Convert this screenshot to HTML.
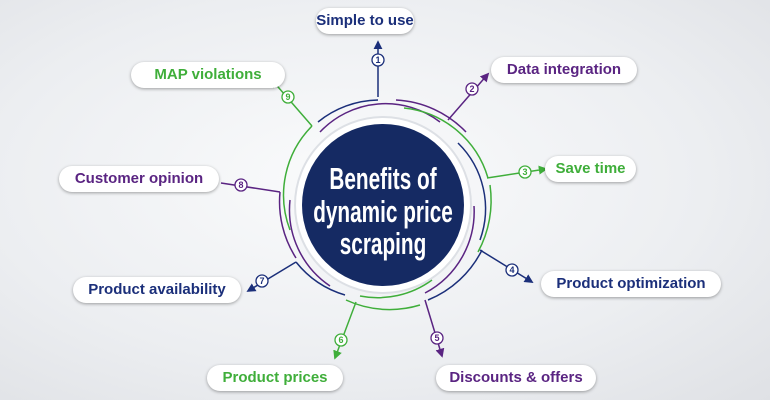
<!DOCTYPE html>
<html><head><meta charset="utf-8"><style>
html,body{margin:0;padding:0}
body{width:770px;height:400px;overflow:hidden;background:radial-gradient(ellipse at 45% 45%,#fafbfc 0%,#eceef1 60%,#dfe1e5 100%);font-family:"Liberation Sans",sans-serif}
.p{position:absolute;height:26px;line-height:26px;background:#fff;border-radius:14px;box-shadow:0 1px 3px rgba(0,0,0,.35);font-weight:bold;font-size:15px;text-align:center}
.b{color:#1b2f7a}.g{color:#3fae3a}.v{color:#5a2482}
</style></head><body>
<svg width="770" height="400" style="position:absolute;left:0;top:0">
<defs>
<marker id="ab" viewBox="0 0 10 10" refX="8" refY="5" markerWidth="6" markerHeight="6" orient="auto"><path d="M0,0L10,5L0,10z" fill="#1b2f7a"/></marker>
<marker id="ag" viewBox="0 0 10 10" refX="8" refY="5" markerWidth="6" markerHeight="6" orient="auto"><path d="M0,0L10,5L0,10z" fill="#3fae3a"/></marker>
<marker id="av" viewBox="0 0 10 10" refX="8" refY="5" markerWidth="6" markerHeight="6" orient="auto"><path d="M0,0L10,5L0,10z" fill="#5a2482"/></marker>
</defs>
<g fill="none" stroke-width="1.5">
<path d="M378,97 L378,42" stroke="#1b2f7a" marker-end="url(#ab)"/>
<path d="M448,120 L488,74" stroke="#5a2482" marker-end="url(#av)"/>
<path d="M487,178 L546,169" stroke="#3fae3a" marker-end="url(#ag)"/>
<path d="M480,250 L532,282" stroke="#1b2f7a" marker-end="url(#ab)"/>
<path d="M425,300 L442,356" stroke="#5a2482" marker-end="url(#av)"/>
<path d="M356,302 L335,358" stroke="#3fae3a" marker-end="url(#ag)"/>
<path d="M296,262 L248,291" stroke="#1b2f7a" marker-end="url(#ab)"/>
<path d="M280,192 L221,183" stroke="#5a2482"/>
<path d="M312,126 L272,80" stroke="#3fae3a" marker-end="url(#ag)"/>
<path d="M318,122 A98,98 0 0 1 378,100" stroke="#1b2f7a"/>
<path d="M396,100 A104,104 0 0 1 466,132" stroke="#5a2482"/>
<path d="M320,132 A90,90 0 0 1 440,122" stroke="#5a2482"/>
<path d="M404,108 A98,98 0 0 1 488,178" stroke="#3fae3a"/>
<path d="M458,143 A92,92 0 0 1 480,240" stroke="#1b2f7a"/>
<path d="M490,185 A108,108 0 0 1 478,252" stroke="#3fae3a"/>
<path d="M474,206 A92,92 0 0 1 425,293" stroke="#5a2482"/>
<path d="M482,250 A104,104 0 0 1 428,300" stroke="#1b2f7a"/>
<path d="M432,280 A92,92 0 0 1 360,296" stroke="#3fae3a"/>
<path d="M420,305 A104,104 0 0 1 346,300" stroke="#3fae3a"/>
<path d="M345,295 A98,98 0 0 1 296,262" stroke="#1b2f7a"/>
<path d="M330,286 A92,92 0 0 1 290,200" stroke="#5a2482"/>
<path d="M296,258 A104,104 0 0 1 280,192" stroke="#5a2482"/>
<path d="M290,230 A98,98 0 0 1 312,126" stroke="#3fae3a"/>
<path d="M300,184 A90,90 0 0 1 330,138" stroke="#1b2f7a"/>
</g>
<circle cx="383" cy="205" r="88" fill="#fff" stroke="#dde0e5" stroke-width="2"/>
<circle cx="383" cy="205" r="81" fill="#152a63"/>
<g fill="#fff" font-family="Liberation Sans, sans-serif" font-weight="bold" font-size="31" text-anchor="middle" transform="translate(383,0) scale(0.67,1)">
<text x="0" y="189">Benefits of</text>
<text x="0" y="222">dynamic price</text>
<text x="0" y="254">scraping</text>
</g>
<g font-size="9" font-weight="bold" text-anchor="middle" fill="#fff" stroke-width="1.3">
<circle cx="378" cy="60" r="6" stroke="#1b2f7a"/><text x="378" y="63" fill="#1b2f7a">1</text>
<circle cx="472" cy="89" r="6" stroke="#5a2482"/><text x="472" y="92" fill="#5a2482">2</text>
<circle cx="525" cy="172" r="6" stroke="#3fae3a"/><text x="525" y="175" fill="#3fae3a">3</text>
<circle cx="512" cy="270" r="6" stroke="#1b2f7a"/><text x="512" y="273" fill="#1b2f7a">4</text>
<circle cx="437" cy="338" r="6" stroke="#5a2482"/><text x="437" y="341" fill="#5a2482">5</text>
<circle cx="341" cy="340" r="6" stroke="#3fae3a"/><text x="341" y="343" fill="#3fae3a">6</text>
<circle cx="262" cy="281" r="6" stroke="#1b2f7a"/><text x="262" y="284" fill="#1b2f7a">7</text>
<circle cx="241" cy="185" r="6" stroke="#5a2482"/><text x="241" y="188" fill="#5a2482">8</text>
<circle cx="288" cy="97" r="6" stroke="#3fae3a"/><text x="288" y="100" fill="#3fae3a">9</text>
</g>
</svg>
<div class="p b" style="left:316px;top:8px;width:98px">Simple to use</div>
<div class="p v" style="left:491px;top:57px;width:146px">Data integration</div>
<div class="p g" style="left:545px;top:156px;width:91px">Save time</div>
<div class="p b" style="left:541px;top:271px;width:180px">Product optimization</div>
<div class="p v" style="left:436px;top:365px;width:160px">Discounts &amp; offers</div>
<div class="p g" style="left:207px;top:365px;width:136px">Product prices</div>
<div class="p b" style="left:73px;top:277px;width:168px">Product availability</div>
<div class="p v" style="left:59px;top:166px;width:160px">Customer opinion</div>
<div class="p g" style="left:131px;top:62px;width:154px">MAP violations</div>
</body></html>
